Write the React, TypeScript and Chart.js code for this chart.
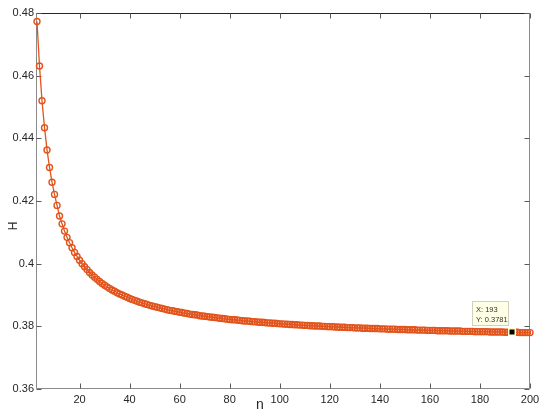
import React, { useEffect, useRef } from 'react';
import { Chart, registerables } from 'chart.js';

Chart.register(...registerables);

const N_VALUES = [
  3, 4, 5, 6, 7, 8, 9, 10, 11, 12, 13, 14, 15, 16, 17, 18, 19, 20,
  21, 22, 23, 24, 25, 26, 27, 28, 29, 30, 31, 32, 33, 34, 35, 36, 37, 38, 39, 40,
  41, 42, 43, 44, 45, 46, 47, 48, 49, 50, 51, 52, 53, 54, 55, 56, 57, 58, 59, 60,
  61, 62, 63, 64, 65, 66, 67, 68, 69, 70, 71, 72, 73, 74, 75, 76, 77, 78, 79, 80,
  81, 82, 83, 84, 85, 86, 87, 88, 89, 90, 91, 92, 93, 94, 95, 96, 97, 98, 99, 100,
  101, 102, 103, 104, 105, 106, 107, 108, 109, 110, 111, 112, 113, 114, 115, 116, 117, 118, 119, 120,
  121, 122, 123, 124, 125, 126, 127, 128, 129, 130, 131, 132, 133, 134, 135, 136, 137, 138, 139, 140,
  141, 142, 143, 144, 145, 146, 147, 148, 149, 150, 151, 152, 153, 154, 155, 156, 157, 158, 159, 160,
  161, 162, 163, 164, 165, 166, 167, 168, 169, 170, 171, 172, 173, 174, 175, 176, 177, 178, 179, 180,
  181, 182, 183, 184, 185, 186, 187, 188, 189, 190, 191, 192, 193, 194, 195, 196, 197, 198, 199, 200,
];

const H_VALUES = [
  0.4773, 0.4631, 0.4520, 0.4434, 0.4363, 0.4307, 0.4260, 0.4221, 0.4186,
  0.4152, 0.4127, 0.4104, 0.4084, 0.4067, 0.4051, 0.4036, 0.4023, 0.4011,
  0.4000, 0.3990, 0.3981, 0.3972, 0.3964, 0.3957, 0.3950, 0.3943, 0.3937, 0.3931,
  0.3926, 0.3921, 0.3916, 0.3912, 0.3907, 0.3903, 0.3900, 0.3896, 0.3893, 0.3889,
  0.3886, 0.3883, 0.3880, 0.3877, 0.3875, 0.3872, 0.3870, 0.3867, 0.3865, 0.3863,
  0.3861, 0.3859, 0.3857, 0.3855, 0.3853, 0.3851, 0.3850, 0.3848, 0.3847, 0.3845,
  0.3844, 0.3842, 0.3841, 0.3839, 0.3838, 0.3837, 0.3836, 0.3834, 0.3833, 0.3832,
  0.3831, 0.3830, 0.3829, 0.3828, 0.3827, 0.3826, 0.3825, 0.3824, 0.3823, 0.3822,
  0.3821, 0.3821, 0.3820, 0.3819, 0.3818, 0.3817, 0.3817, 0.3816, 0.3815, 0.3815,
  0.3814, 0.3813, 0.3813, 0.3812, 0.3811, 0.3811, 0.3810, 0.3810, 0.3809, 0.3808,
  0.3808, 0.3807, 0.3807, 0.3806, 0.3806, 0.3805, 0.3805, 0.3804, 0.3804, 0.3803,
  0.3803, 0.3802, 0.3802, 0.3801, 0.3801, 0.3801, 0.3800, 0.3800, 0.3799, 0.3799,
  0.3799, 0.3798, 0.3798, 0.3797, 0.3797, 0.3797, 0.3796, 0.3796, 0.3796, 0.3795,
  0.3795, 0.3795, 0.3794, 0.3794, 0.3794, 0.3793, 0.3793, 0.3793, 0.3793, 0.3792,
  0.3792, 0.3792, 0.3791, 0.3791, 0.3791, 0.3791, 0.3790, 0.3790, 0.3790, 0.3790,
  0.3789, 0.3789, 0.3789, 0.3789, 0.3788, 0.3788, 0.3788, 0.3788, 0.3787, 0.3787,
  0.3787, 0.3787, 0.3786, 0.3786, 0.3786, 0.3786, 0.3786, 0.3785, 0.3785, 0.3785,
  0.3785, 0.3785, 0.3784, 0.3784, 0.3784, 0.3784, 0.3784, 0.3783, 0.3783, 0.3783,
  0.3783, 0.3783, 0.3783, 0.3782, 0.3782, 0.3782, 0.3782, 0.3782, 0.3782, 0.3781,
  0.3781, 0.3781, 0.3781, 0.3781, 0.3781, 0.3780, 0.3780, 0.3780, 0.3780, 0.3780,
];

const X_TICKS = [20, 40, 60, 80, 100, 120, 140, 160, 180, 200];
const Y_TICKS = [0.36, 0.38, 0.4, 0.42, 0.44, 0.46, 0.48];
const X_MIN = 3;
const X_MAX = 200;
const Y_MIN = 0.36;
const Y_MAX = 0.48;
const TIP_X = 193;
const TIP_Y = 0.3781;
const X_LABEL = 'n';
const Y_LABEL = 'H';

const FONT = '"Liberation Sans", Arial, Helvetica, sans-serif';
const LINE_COLOR = '#E2541C';

export default function App() {
  const ref = useRef<HTMLCanvasElement>(null);

  useEffect(() => {
    const canvas = ref.current;
    if (!canvas) return;

    const framePlugin = {
      id: 'matlabFrame',
      beforeDatasetsDraw(chart: any) {
        const { ctx, chartArea: a, scales } = chart;
        const xs = scales.x;
        const ys = scales.y;
        const L = Math.round(a.left) - 0.5;
        const R = Math.round(a.right) - 0.5;
        const T = Math.round(a.top) + 0.5;
        const B = Math.round(a.bottom) - 0.5;
        ctx.save();
        ctx.lineWidth = 1;
        ctx.strokeStyle = '#8a8a8a';
        ctx.beginPath();
        ctx.moveTo(L, T);
        ctx.lineTo(L, B);
        ctx.lineTo(R, B);
        ctx.lineTo(R, T);
        ctx.stroke();
        ctx.strokeStyle = '#262626';
        ctx.beginPath();
        ctx.moveTo(L, T);
        ctx.lineTo(R, T);
        ctx.stroke();
        // ticks
        ctx.strokeStyle = '#5a5a5a';
        ctx.beginPath();
        X_TICKS.forEach((v) => {
          const px = Math.round(xs.getPixelForValue(v)) + 0.5;
          ctx.moveTo(px, B);
          ctx.lineTo(px, B - 5);
          ctx.moveTo(px, T);
          ctx.lineTo(px, T + 5);
        });
        Y_TICKS.forEach((v) => {
          const py = Math.round(ys.getPixelForValue(v)) + 0.5;
          ctx.moveTo(L, py);
          ctx.lineTo(L + 5, py);
          ctx.moveTo(R, py);
          ctx.lineTo(R - 5, py);
        });
        ctx.stroke();
        ctx.restore();
      },
      afterDatasetsDraw(chart: any) {
        const { ctx, scales } = chart;
        const px = scales.x.getPixelForValue(TIP_X);
        const py = scales.y.getPixelForValue(TIP_Y);
        ctx.save();
        // marker
        ctx.fillStyle = '#FFFFD0';
        ctx.fillRect(Math.round(px) - 4, Math.round(py) - 4, 8, 8);
        ctx.fillStyle = '#000000';
        ctx.fillRect(Math.round(px) - 2.5, Math.round(py) - 2.5, 5, 5);
        // box
        const bx = Math.round(px) - 40 + 0.5;
        const by = Math.round(py) - 31 + 0.5;
        ctx.fillStyle = '#FFFFE6';
        ctx.fillRect(bx, by, 36, 24);
        ctx.strokeStyle = '#D0D0C0';
        ctx.lineWidth = 1;
        ctx.strokeRect(bx, by, 36, 24);
        ctx.fillStyle = '#333333';
        ctx.font = `7.5px ${FONT}`;
        ctx.textAlign = 'left';
        ctx.textBaseline = 'middle';
        ctx.fillText(`X: ${TIP_X}`, bx + 3.5, by + 8);
        ctx.fillText(`Y: ${TIP_Y.toFixed(4)}`, bx + 3.5, by + 18);
        ctx.restore();
      },
      afterDraw(chart: any) {
        const { ctx } = chart;
        ctx.save();
        ctx.fillStyle = '#262626';
        ctx.font = `14px ${FONT}`;
        ctx.textAlign = 'center';
        ctx.textBaseline = 'alphabetic';
        ctx.fillText(X_LABEL, 260, 409);
        ctx.translate(14, 226);
        ctx.rotate(-Math.PI / 2);
        ctx.font = `12px ${FONT}`;
        ctx.textBaseline = 'middle';
        ctx.fillText(Y_LABEL, 0, 0);
        ctx.restore();
      },
    };

    const chart = new Chart(canvas, {
      type: 'line',
      data: {
        datasets: [
          {
            data: N_VALUES.map((n, i) => ({ x: n, y: H_VALUES[i] })),
            borderColor: LINE_COLOR,
            borderWidth: 1.3,
            pointRadius: 3,
            pointBorderWidth: 1.4,
            pointBorderColor: LINE_COLOR,
            pointBackgroundColor: 'rgba(0,0,0,0)',
            pointStyle: 'circle',
            tension: 0,
            fill: false,
            clip: false as any,
          },
        ],
      },
      options: {
        responsive: false,
        animation: false,
        devicePixelRatio: 1,
        layout: { padding: { top: 13, right: 20, left: 0, bottom: 0 } },
        plugins: {
          legend: { display: false },
          tooltip: { enabled: false },
        },
        scales: {
          x: {
            type: 'linear',
            min: X_MIN,
            max: X_MAX,
            grid: { display: false, drawTicks: false },
            border: { display: false },
            afterBuildTicks: (s: any) => {
              s.ticks = X_TICKS.map((v) => ({ value: v }));
            },
            afterFit: (s: any) => {
              s.height = 29;
            },
            ticks: {
              padding: 4,
              color: '#262626',
              font: { family: FONT, size: 11 },
              maxRotation: 0,
              autoSkip: false,
            },
          },
          y: {
            type: 'linear',
            min: Y_MIN,
            max: Y_MAX,
            grid: { display: false, drawTicks: false },
            border: { display: false },
            afterBuildTicks: (s: any) => {
              s.ticks = Y_TICKS.map((v) => ({ value: v }));
            },
            afterFit: (s: any) => {
              s.width = 37;
            },
            ticks: {
              padding: 3,
              color: '#262626',
              font: { family: FONT, size: 11 },
              callback: (v: any) => String(Number(Number(v).toFixed(2))),
            },
          },
        },
      },
      plugins: [framePlugin],
    } as any);

    return () => chart.destroy();
  }, []);

  return (
    <div style={{ position: 'fixed', left: 0, top: 0, width: 550, height: 418, background: '#ffffff' }}>
      <canvas ref={ref} width={550} height={418} style={{ width: 550, height: 418, display: 'block' }} />
    </div>
  );
}
